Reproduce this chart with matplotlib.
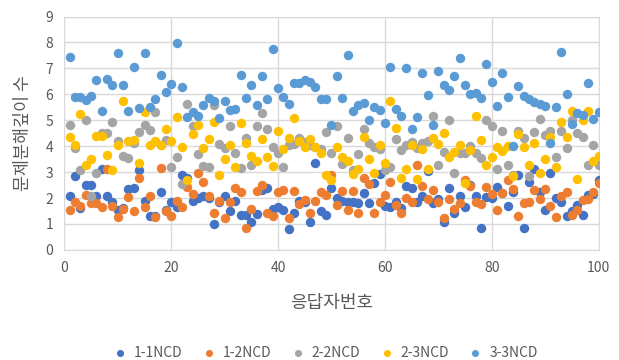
import numpy as np
import matplotlib
matplotlib.use("Agg")
import matplotlib.pyplot as plt

plt.rcParams['font.family'] = ['Noto Sans CJK KR', 'DejaVu Sans']

respondents = np.arange(1, 101)

ncd_1_1 = [2.08, 2.83, 1.61, 2.51, 2.51, 2.08, 3.11, 2.08, 1.86, 1.54,
           1.61, 2.34, 2.38, 3.08, 1.90, 1.29, 1.29, 2.25, 1.54, 1.83,
           1.67, 2.89, 2.76, 1.90, 1.99, 2.06, 1.99, 1.00, 1.83, 2.08,
           1.48, 1.90, 1.35, 1.35, 1.09, 1.39, 2.31, 2.38, 1.57, 1.67,
           1.54, 0.80, 1.41, 1.90, 1.86, 1.09, 3.34, 1.48, 1.35, 2.38,
           1.99, 1.90, 1.83, 1.83, 1.80, 2.21, 1.80, 2.57, 2.93, 1.70,
           1.67, 1.86, 1.61, 2.47, 2.38, 1.83, 2.08, 3.06, 1.80, 1.95,
           1.09, 2.38, 1.41, 2.06, 1.67, 2.51, 2.08, 0.84, 2.03, 1.99,
           2.44, 2.19, 1.70, 2.25, 2.90, 0.84, 2.60, 3.11, 2.25, 1.54,
           2.96, 1.99, 1.86, 1.32, 1.50, 1.74, 1.35, 2.12, 2.16, 2.70]

ncd_1_2 = [1.54, 1.83, 1.70, 2.12, 1.80, 1.80, 1.67, 3.11, 1.70, 1.26,
           1.57, 2.03, 1.48, 2.76, 1.67, 2.06, 1.26, 3.15, 1.48, 1.29,
           1.90, 1.67, 2.44, 2.16, 2.96, 2.60, 2.06, 1.41, 1.90, 1.22,
           1.83, 2.38, 2.25, 0.84, 1.57, 2.28, 2.51, 1.44, 1.32, 2.25,
           2.31, 1.22, 2.28, 1.77, 1.93, 1.44, 1.90, 2.25, 2.12, 2.89,
           1.74, 2.28, 1.54, 2.28, 1.41, 2.76, 2.54, 1.41, 1.83, 2.12,
           2.60, 1.74, 1.44, 1.99, 1.83, 3.28, 2.47, 1.95, 2.31, 1.83,
           1.22, 1.95, 1.57, 1.80, 2.70, 2.47, 1.83, 1.77, 2.42, 2.16,
           1.54, 2.19, 2.70, 2.34, 1.29, 1.80, 1.86, 2.31, 1.95, 2.34,
           1.70, 1.26, 2.06, 2.25, 1.35, 1.52, 1.93, 1.95, 2.25, 2.57]

ncd_2_2 = [4.82, 3.92, 3.08, 5.01, 2.06, 2.98, 4.50, 4.52, 4.95, 4.18,
           3.62, 3.53, 4.14, 4.56, 4.82, 4.63, 5.33, 4.05, 4.24, 3.19,
           3.60, 2.55, 5.63, 4.76, 3.70, 3.24, 3.19, 5.59, 4.10, 3.92,
           4.76, 3.73, 3.15, 4.31, 3.28, 4.78, 5.29, 4.65, 3.98, 3.73,
           3.21, 4.05, 4.10, 4.31, 4.15, 4.05, 3.95, 3.90, 4.56, 3.73,
           4.78, 3.31, 4.31, 3.08, 3.70, 4.65, 4.11, 3.98, 3.90, 3.08,
           3.21, 4.27, 3.86, 4.05, 4.15, 3.92, 4.11, 4.20, 5.17, 3.28,
           3.79, 4.99, 2.96, 3.75, 3.73, 4.01, 3.73, 3.53, 4.99, 4.76,
           3.11, 4.60, 3.28, 2.90, 4.60, 4.31, 2.85, 4.56, 5.04, 4.43,
           4.60, 3.60, 4.60, 3.92, 5.01, 4.50, 4.37, 3.28, 4.05, 3.28]

ncd_2_3 = [4.34, 4.05, 5.24, 3.28, 3.50, 4.40, 4.40, 3.66, 3.08, 4.05,
           5.76, 4.18, 4.24, 3.34, 5.33, 4.05, 4.18, 4.05, 4.65, 4.18,
           5.12, 3.98, 2.70, 4.47, 4.82, 3.92, 4.27, 4.95, 2.89, 3.50,
           4.05, 3.19, 4.88, 4.14, 3.62, 3.41, 4.27, 3.60, 3.24, 4.60,
           3.88, 4.31, 5.08, 4.18, 3.96, 4.27, 3.96, 3.73, 2.89, 2.70,
           3.98, 3.57, 3.41, 2.93, 3.11, 4.34, 3.50, 2.98, 4.05, 3.34,
           5.74, 4.69, 2.76, 3.11, 4.05, 2.72, 3.88, 3.11, 4.31, 4.09,
           4.52, 3.60, 3.79, 4.05, 2.57, 3.86, 5.17, 4.24, 3.28, 3.60,
           3.96, 3.83, 4.01, 2.83, 4.47, 3.98, 3.28, 4.14, 2.96, 3.50,
           4.37, 3.21, 4.95, 4.37, 5.37, 2.72, 5.01, 5.37, 3.44, 3.62]

ncd_3_3 = [7.43, 5.89, 5.89, 5.78, 5.94, 6.56, 5.37, 6.58, 6.36, 7.61,
           6.36, 5.37, 7.07, 5.46, 7.61, 5.53, 5.81, 6.75, 6.10, 6.40,
           7.97, 6.27, 5.14, 5.33, 5.17, 5.59, 5.85, 5.76, 5.08, 5.76,
           5.40, 5.44, 6.75, 5.85, 6.36, 5.59, 6.71, 5.81, 7.74, 6.23,
           5.89, 5.63, 6.45, 6.43, 6.56, 6.49, 6.30, 5.81, 5.81, 4.82,
           6.71, 5.85, 7.52, 5.37, 5.59, 5.68, 5.01, 5.53, 5.40, 4.88,
           7.07, 5.42, 5.17, 7.00, 4.65, 5.12, 6.81, 5.98, 4.82, 6.90,
           6.36, 6.17, 6.71, 7.39, 6.36, 6.02, 6.07, 5.85, 7.17, 6.49,
           5.55, 6.84, 5.91, 4.01, 6.33, 5.94, 5.81, 5.72, 5.63, 5.55,
           4.14, 5.50, 7.65, 6.02, 4.86, 5.27, 5.20, 6.43, 5.04, 5.30]

series = [('1-1NCD', ncd_1_1, '#4472C4'),
          ('1-2NCD', ncd_1_2, '#ED7D31'),
          ('2-2NCD', ncd_2_2, '#A5A5A5'),
          ('2-3NCD', ncd_2_3, '#FFC000'),
          ('3-3NCD', ncd_3_3, '#5B9BD5')]

fig = plt.figure(figsize=(6.19, 3.6), dpi=100)
ax = fig.add_axes([0.104, 0.306, 0.863, 0.648])

for name, vals, color in series:
    ax.scatter(respondents, vals, s=46, color=color, label=name,
               linewidths=0, zorder=3)

ax.set_xlim(0, 100)
ax.set_ylim(0, 9)
ax.set_xticks(range(0, 101, 20))
ax.set_yticks(range(0, 10))
ax.grid(True, color='#D9D9D9', linewidth=1, zorder=0)
for sp in ax.spines.values():
    sp.set_color('#D9D9D9')
ax.tick_params(length=0, labelsize=10, labelcolor='#595959', pad=8)

ax.set_xlabel('응답자번호', fontsize=13, color='#595959', labelpad=14)
ax.set_ylabel('문제분해깊이 수', fontsize=12.5, color='#595959', labelpad=10)

# legend row along the bottom edge
fig.legend(loc='lower center', ncol=5, frameon=False, fontsize=10,
           bbox_to_anchor=(0.52, -0.035), handletextpad=0.0,
           columnspacing=0.9, markerscale=0.75, labelcolor='#595959')

fig.savefig('out.png', dpi=100)
